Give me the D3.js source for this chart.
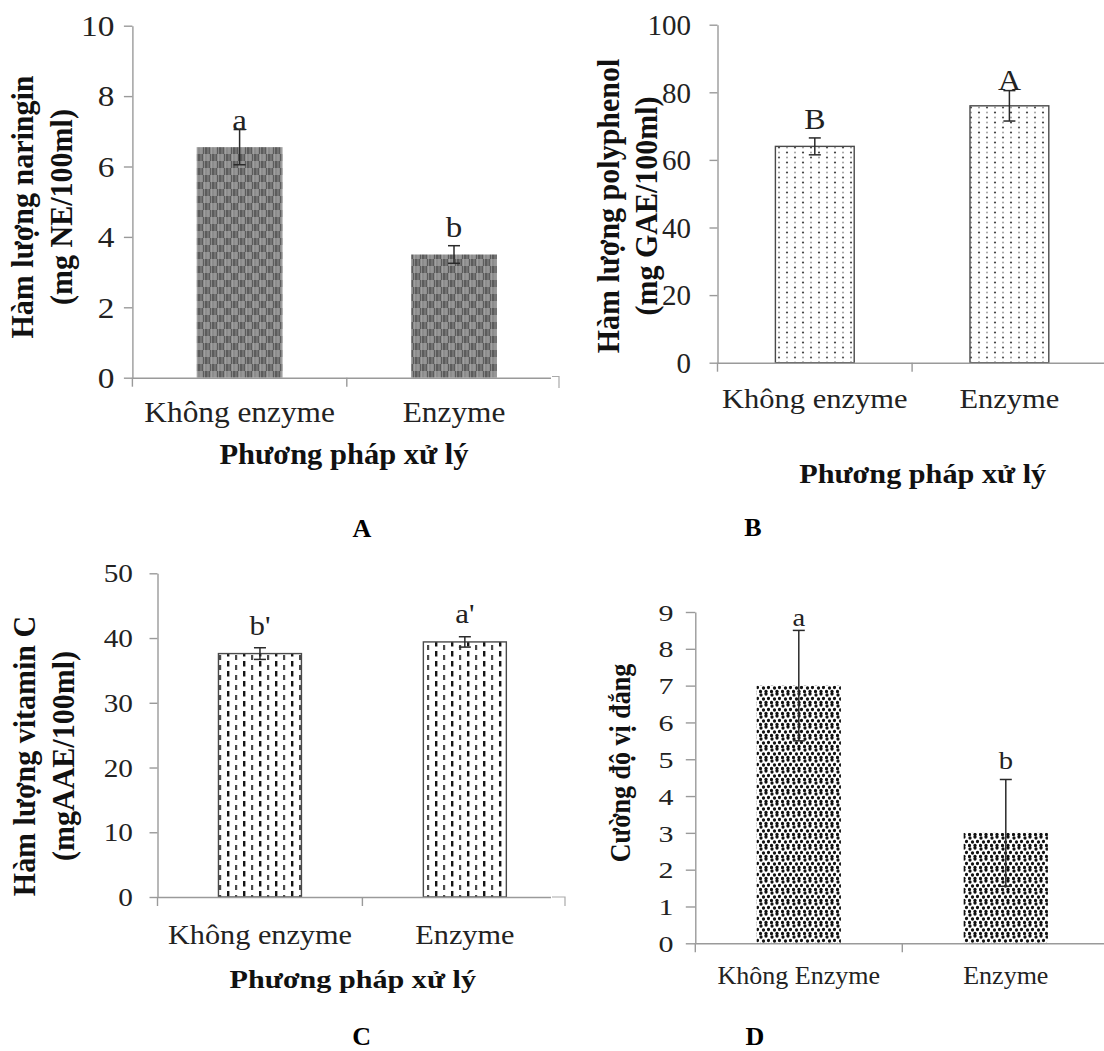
<!DOCTYPE html>
<html>
<head>
<meta charset="utf-8">
<script src="https://cdn.jsdelivr.net/npm/d3@7"></script>
<style>
  html, body { margin: 0; padding: 0; background: #fff; }
  svg { display: block; }
</style>
</head>
<body>
<script>
// ---------------- DATA ----------------
const categories = ["Không enzyme", "Enzyme"];
const categoriesD = ["Không Enzyme", "Enzyme"];

const naringinValues = [6.55, 3.5];
const naringinErrors = [0.5, 0.25];
const naringinLetters = ["a", "b"];
const naringinTicks = [0, 2, 4, 6, 8, 10];

const polyphenolValues = [64, 76];
const polyphenolErrors = [2.5, 4.5];
const polyphenolLetters = ["B", "A"];
const polyphenolTicks = [0, 20, 40, 60, 80, 100];

const vitaminCValues = [37.6, 39.4];
const vitaminCErrors = [0.9, 0.8];
const vitaminCLetters = ["b'", "a'"];
const vitaminCTicks = [0, 10, 20, 30, 40, 50];

const bitterValues = [7, 3];
const bitterErrors = [1.5, 1.45];
const bitterLetters = ["a", "b"];
const bitterTicks = [0, 1, 2, 3, 4, 5, 6, 7, 8, 9];

const titleA = ["Hàm lượng naringin", "(mg NE/100ml)"];
const titleB = ["Hàm lượng polyphenol", "(mg GAE/100ml)"];
const titleC = ["Hàm lượng vitamin C", "(mgAAE/100ml)"];
const titleD = ["Cường độ vị đắng"];
const xTitle = "Phương pháp xử lý";
const captions = ["A", "B", "C", "D"];

// ---------------- SETUP ----------------
const FONT = "'Liberation Serif', 'Times New Roman', serif";
const AXIS = "#9a9a9a";
const INK = "#222";

const svg = d3.select("body").append("svg")
  .attr("width", 1104).attr("height", 1051)
  .style("font-family", FONT);

const defs = svg.append("defs");

// Pattern A : grey checkered mesh
const pA = defs.append("pattern").attr("id", "patA").attr("patternUnits", "userSpaceOnUse")
  .attr("width", 14).attr("height", 14);
pA.append("rect").attr("width", 14).attr("height", 14).attr("fill", "#8c8c8c");
pA.append("rect").attr("width", 7).attr("height", 7).attr("fill", "#5c5c5c");
pA.append("rect").attr("x", 7).attr("y", 7).attr("width", 7).attr("height", 7).attr("fill", "#5c5c5c");
[1.5, 5, 8.5, 12].forEach(v => {
  pA.append("line").attr("x1", v).attr("x2", v).attr("y1", 0).attr("y2", 14)
    .attr("stroke", "#b4b4b4").attr("stroke-width", 1).attr("opacity", 0.5);
});

// Pattern B : light dotted
const pB = defs.append("pattern").attr("id", "patB").attr("patternUnits", "userSpaceOnUse")
  .attr("width", 16).attr("height", 10);
pB.append("rect").attr("width", 16).attr("height", 10).attr("fill", "#fff");
[[3, 2.5, 1.1, "#444"], [11, 2.5, 0.95, "#a0a0a0"], [3, 7.5, 0.95, "#999"], [11, 7.5, 1.1, "#505050"]]
  .forEach(([cx, cy, r, c]) => pB.append("circle").attr("cx", cx).attr("cy", cy).attr("r", r).attr("fill", c));

// Pattern C : vertical dashes
const pC = defs.append("pattern").attr("id", "patC").attr("patternUnits", "userSpaceOnUse")
  .attr("width", 16).attr("height", 10);
pC.append("rect").attr("width", 16).attr("height", 10).attr("fill", "#fff");
pC.append("rect").attr("x", 3).attr("y", 1).attr("width", 2.4).attr("height", 5.5).attr("fill", "#151515");
pC.append("rect").attr("x", 11).attr("y", 5).attr("width", 2.2).attr("height", 5).attr("fill", "#4a4a4a");

// Pattern D : dense black dots
const pD = defs.append("pattern").attr("id", "patD").attr("patternUnits", "userSpaceOnUse")
  .attr("width", 11).attr("height", 11);
pD.append("rect").attr("width", 11).attr("height", 11).attr("fill", "#fff");
[[2, 2], [7, 1], [4.5, 6], [9.5, 5.5], [1.5, 9.5], [7, 9.5]]
  .forEach(([cx, cy]) => pD.append("circle").attr("cx", cx).attr("cy", cy).attr("r", 1.65).attr("fill", "#111"));

defs.append("clipPath").attr("id", "clipLeft").append("rect")
  .attr("x", 0).attr("y", 0).attr("width", 551).attr("height", 1051);

function hText(sel, x, y, str, size, opts = {}) {
  return sel.append("text")
    .attr("transform", `translate(${x},${y}) scale(${opts.sx || 1},1)`)
    .attr("text-anchor", opts.anchor || "middle")
    .attr("font-size", size)
    .attr("font-weight", opts.bold ? "bold" : "normal")
    .attr("fill", opts.fill || INK)
    .text(str);
}
function vText(sel, x, y, str, size, opts = {}) {
  return sel.append("text")
    .attr("transform", `translate(${x},${y}) rotate(-90) scale(1,${opts.sx || 1})`)
    .attr("text-anchor", "middle")
    .attr("font-size", size)
    .attr("font-weight", opts.bold ? "bold" : "normal")
    .attr("fill", opts.fill || "#111")
    .text(str);
}

function panel(cfg) {
  const { cats, values, errors, letters, ticks, title, L } = cfg;
  const root = svg.append("g");
  const g = L.clip ? root.append("g").attr("clip-path", "url(#clipLeft)") : root;

  const y = d3.scaleLinear().domain([0, d3.max(ticks)]).range([L.y0, L.yTop]);
  const x = d3.scaleBand().domain(cats).range([L.x0, L.x0 + 2 * L.step])
    .paddingInner(L.pi).paddingOuter(L.pi / 2);
  const cx = c => x(c) + x.bandwidth() / 2;

  g.selectAll("rect.bar").data(values).join("rect").attr("class", "bar")
    .attr("x", (d, i) => x(cats[i]))
    .attr("y", d => y(d))
    .attr("width", x.bandwidth())
    .attr("height", d => y(0) - y(d))
    .attr("fill", `url(#${L.pat})`)
    .attr("stroke", L.barStroke || "none")
    .attr("stroke-width", 1.4);

  const yg = g.append("g").attr("transform", `translate(${L.x0},0)`)
    .call(d3.axisLeft(y).tickValues(ticks).tickSize(L.tickLen).tickSizeOuter(0).tickPadding(L.tickPad))
    .attr("font-family", FONT).attr("font-size", L.tickFont);
  yg.select(".domain").attr("stroke", AXIS).attr("stroke-width", 1.4);
  yg.selectAll(".tick line").attr("stroke", AXIS).attr("stroke-width", 1.4);
  yg.selectAll(".tick text")
    .attr("x", null).attr("dy", "0.34em").attr("fill", INK)
    .attr("transform", `translate(${-(L.tickLen + L.tickPad)},0) scale(${L.tickSx},1)`);

  const xg = g.append("g").attr("transform", `translate(0,${L.y0})`)
    .call(d3.axisBottom(x).tickSize(0).tickSizeOuter(0))
    .attr("font-family", FONT).attr("font-size", L.xlabFont);
  xg.select(".domain").attr("stroke", AXIS).attr("stroke-width", 1.4);
  xg.selectAll(".tick text")
    .attr("y", null).attr("dy", null).attr("fill", INK)
    .attr("transform", `translate(0,${L.xlabOff}) scale(${L.xlabSx},1)`);
  const [r0, r1] = x.range();
  g.selectAll("line.bt").data(d3.range(3)).join("line").attr("class", "bt")
    .attr("x1", i => r0 + i * (r1 - r0) / 2).attr("x2", i => r0 + i * (r1 - r0) / 2)
    .attr("y1", L.y0).attr("y2", L.y0 + 9)
    .attr("stroke", AXIS).attr("stroke-width", 1.4);

  const cap = 6;
  const eb = g.append("g").attr("stroke", "#2a2a2a").attr("stroke-width", 1.5);
  values.forEach((v, i) => {
    const c = cx(cats[i]);
    const yt = y(v + errors[i]), yb = y(v - errors[i]);
    eb.append("line").attr("x1", c).attr("x2", c).attr("y1", yt).attr("y2", yb);
    eb.append("line").attr("x1", c - cap).attr("x2", c + cap).attr("y1", yt).attr("y2", yt);
    eb.append("line").attr("x1", c - cap).attr("x2", c + cap).attr("y1", yb).attr("y2", yb);
  });

  letters.forEach((t, i) => {
    hText(g, cx(cats[i]), y(values[i] + errors[i]) - L.letterGap[i], t, L.letterFont, { sx: L.letterSx });
  });

  title.forEach((t, i) => {
    vText(root, L.titleX[i], L.titleY, t, L.titleFont, { bold: true, sx: L.titleSx });
  });

  if (L.xTitle) hText(root, L.xTitle[0], L.xTitle[1], xTitle, L.xTitleFont, { bold: true, sx: L.xTitleSx, fill: "#111" });

  hText(root, L.cap[0], L.cap[1], L.capText, 26, { bold: true, fill: "#000" });
}

// ---------------- PANELS ----------------
panel({
  cats: categories, values: naringinValues, errors: naringinErrors, letters: naringinLetters,
  ticks: naringinTicks, title: titleA,
  L: { clip: true, x0: 132.4, step: 214.4, y0: 377.7, yTop: 25.7, pi: 0.6, pat: "patA",
       tickLen: 8.5, tickPad: 9.5, tickFont: 29, tickSx: 1.15,
       xlabFont: 28.5, xlabSx: 1.1, xlabOff: 44.5,
       letterFont: 30, letterSx: 1.1, letterGap: [0, 8.7],
       titleX: [33.4, 72.2], titleY: 207, titleFont: 30, titleSx: 1.08,
       xTitle: [344, 464], xTitleFont: 28.5, xTitleSx: 1.07,
       cap: [362, 537], capText: captions[0] }
});

panel({
  cats: categories, values: polyphenolValues, errors: polyphenolErrors, letters: polyphenolLetters,
  ticks: polyphenolTicks, title: titleB,
  L: { clip: false, x0: 717.5, step: 194.6, y0: 362.7, yTop: 24.7, pi: 0.595, pat: "patB", barStroke: "#4a4a4a",
       tickLen: 8, tickPad: 18.5, tickFont: 29, tickSx: 1.0,
       xlabFont: 27, xlabSx: 1.13, xlabOff: 45.6,
       letterFont: 29, letterSx: 1.1, letterGap: [9.3, 0.6],
       titleX: [619, 657], titleY: 206, titleFont: 30, titleSx: 1.08,
       xTitle: [922.7, 483.3], xTitleFont: 27, xTitleSx: 1.12,
       cap: [753, 536], capText: captions[1] }
});

panel({
  cats: categories, values: vitaminCValues, errors: vitaminCErrors, letters: vitaminCLetters,
  ticks: vitaminCTicks, title: titleC,
  L: { clip: true, x0: 157.5, step: 204.9, y0: 897, yTop: 573.3, pi: 0.595, pat: "patC", barStroke: "#4a4a4a",
       tickLen: 8, tickPad: 16.6, tickFont: 25, tickSx: 1.17,
       xlabFont: 27.5, xlabSx: 1.1, xlabOff: 46.5,
       letterFont: 28, letterSx: 1.1, letterGap: [12.8, 13.8],
       titleX: [35.2, 73.5], titleY: 756, titleFont: 30, titleSx: 1.08,
       xTitle: [352.8, 988.3], xTitleFont: 26, xTitleSx: 1.16,
       cap: [361.7, 1045], capText: captions[2] }
});

panel({
  cats: categoriesD, values: bitterValues, errors: bitterErrors, letters: bitterLetters,
  ticks: bitterTicks, title: titleD,
  L: { clip: false, x0: 695.3, step: 207, y0: 943.3, yTop: 612, pi: 0.593, pat: "patD",
       tickLen: 9.5, tickPad: 12.3, tickFont: 24, tickSx: 1.25,
       xlabFont: 26, xlabSx: 1.0, xlabOff: 40.7,
       letterFont: 26, letterSx: 1.1, letterGap: [4.5, 10.5],
       titleX: [630], titleY: 763, titleFont: 26, titleSx: 1.1,
       xTitle: null,
       cap: [755, 1045], capText: captions[3] }
});

svg.append("path").attr("d", "M552,376.5 H559 V388").attr("fill", "none").attr("stroke", "#aaa").attr("stroke-width", 1.2);
svg.append("path").attr("d", "M552,897 H565 V906").attr("fill", "none").attr("stroke", "#aaa").attr("stroke-width", 1.2);
</script>
</body>
</html>
